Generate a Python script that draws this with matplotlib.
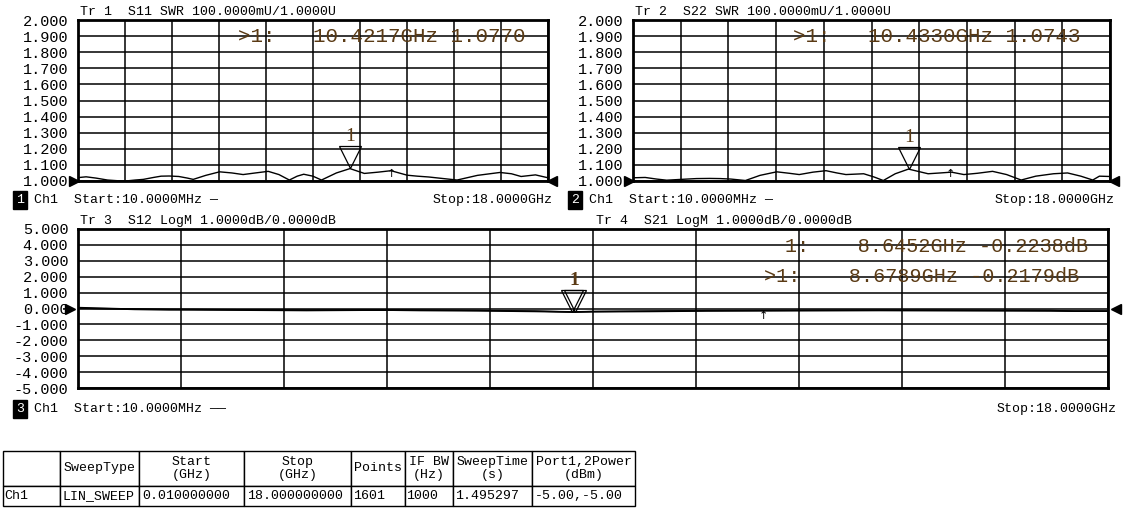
import matplotlib.pyplot as plt
import matplotlib.transforms as mtransforms

plt.rcParams['font.family'] = ['Liberation Mono', 'DejaVu Sans Mono']

# S11 / S22 SWR traces (GHz, SWR)
s11_freq = [0.01, 0.32, 0.7, 1.14, 1.5, 1.83, 2.2, 2.51, 2.9, 3.19, 3.5, 3.87, 4.2, 4.42,
            4.9, 5.43, 5.9, 6.33, 6.8, 7.29, 7.7, 8.10, 8.4, 8.65, 9.0, 9.33, 9.9,
            10.42, 10.97, 11.5, 11.99, 12.61, 13.0, 13.43, 14.0, 14.52, 15.3, 16.16,
            16.6, 16.97, 17.52, 18.0]
s11_swr = [1.021, 1.026, 1.018, 1.006, 1.002, 1.000, 1.006, 1.010, 1.022, 1.030, 1.031,
           1.028, 1.018, 1.010, 1.035, 1.057, 1.050, 1.040, 1.050, 1.060, 1.040, 1.006,
           1.030, 1.042, 1.030, 1.006, 1.050, 1.077, 1.047, 1.055, 1.064, 1.036, 1.030,
           1.025, 1.015, 1.006, 1.035, 1.053, 1.045, 1.028, 1.038, 1.020]

s22_freq = [0.01, 0.47, 0.9, 1.28, 1.82, 2.4, 2.9, 3.3, 3.7, 4.25, 4.8, 5.43, 5.9, 6.28,
            6.8, 7.29, 7.7, 8.04, 8.71, 9.1, 9.45, 9.9, 10.4, 11.14, 11.6, 12.02, 12.49,
            13.0, 13.57, 14.1, 14.65, 15.2, 15.87, 16.4, 16.9, 17.35, 17.6, 18.0]
s22_swr = [1.020, 1.022, 1.012, 1.005, 1.010, 1.015, 1.016, 1.015, 1.012, 1.003, 1.035,
           1.057, 1.048, 1.040, 1.055, 1.064, 1.050, 1.040, 1.045, 1.025, 1.003, 1.045,
           1.074, 1.045, 1.050, 1.055, 1.040, 1.048, 1.060, 1.040, 1.006, 1.030, 1.045,
           1.050, 1.030, 1.006, 1.030, 1.028]

# S12 / S21 LogM traces (GHz, dB)
lin_freq = [0.01, 0.3, 1.0, 1.6, 2.0, 3.0, 4.0, 5.0, 5.5, 6.0, 7.0, 8.0, 8.65, 8.68, 9.0,
            10.0, 11.0, 12.0, 13.0, 14.0, 15.0, 16.0, 17.0, 17.4, 18.0]
s12_db = [0.05, 0.02, -0.05, -0.08, -0.08, -0.10, -0.12, -0.10, -0.10, -0.12, -0.14,
          -0.18, -0.22, -0.22, -0.20, -0.18, -0.15, -0.14, -0.13, -0.12, -0.13, -0.14,
          -0.15, -0.16, -0.16]
s21_db = [0.03, 0.00, -0.03, -0.05, -0.06, -0.08, -0.10, -0.09, -0.09, -0.10, -0.12,
          -0.16, -0.2238, -0.2179, -0.19, -0.16, -0.13, -0.12, -0.11, -0.10, -0.10, -0.11,
          -0.12, -0.17, -0.17]

# markers
s11_mk = (10.4217, 1.0770)
s22_mk = (10.4330, 1.0743)
s21_mk = [(8.6452, -0.2238), (8.6789, -0.2179)]
ref_freq = 11.99

swr_ticks = [1.0, 1.1, 1.2, 1.3, 1.4, 1.5, 1.6, 1.7, 1.8, 1.9, 2.0]
db_ticks = [-5, -4, -3, -2, -1, 0, 1, 2, 3, 4, 5]

tbl_header = ['', 'SweepType', 'Start\n(GHz)', 'Stop\n(GHz)', 'Points', 'IF BW\n(Hz)',
              'SweepTime\n(s)', 'Port1,2Power\n(dBm)']
tbl_row = ['Ch1', 'LIN_SWEEP', '0.010000000', '18.000000000', '1601', '1000', '1.495297',
           '-5.00,-5.00']

W, H = 1125, 513
mk_col = '#5a3a14'
fig = plt.figure(figsize=(W / 100, H / 100), dpi=100)


def box(x0, y0, x1, y1):
    return [x0 / W, 1 - y1 / H, (x1 - x0) / W, (y1 - y0) / H]


def setup(ax, ticks, fmt):
    ax.set_xlim(0.01, 18.0)
    ax.set_ylim(ticks[0], ticks[-1])
    step = (18.0 - 0.01) / 10
    ax.set_xticks([0.01 + i * step for i in range(11)])
    ax.set_yticks(ticks)
    ax.set_yticklabels([fmt % t for t in ticks])
    ax.set_xticklabels([])
    ax.tick_params(length=0, pad=7, labelsize=11)
    ax.grid(True, color='black', lw=1.1)
    for s in ax.spines.values():
        s.set_linewidth(2)
    # reference triangles
    tr = ax.get_yaxis_transform()
    ref = 1.0 if ticks[0] == 1.0 else 0.0
    ax.plot([-0.008], [ref], marker='>', ms=7, color='black', transform=tr, clip_on=False)
    ax.plot([1.008], [ref], marker='<', ms=7, color='black', transform=tr, clip_on=False)


def marker(ax, f, v, dx=0, label=True, weight='normal'):
    off = mtransforms.offset_copy(ax.transData, fig=fig, x=dx, y=8, units='points')
    ax.plot([f], [v], marker='v', ms=16, mfc='none', mec='black', mew=0.9,
            transform=off, clip_on=False)
    if label:
        ax.annotate('1', (f, v), xytext=(0, 23), textcoords='offset points', ha='center',
                    va='center', fontsize=14, color=mk_col, family='Liberation Serif',
                    fontweight=weight)


# top panels
for bx, fr, sw, mk, tr_txt, num, mk_txt in [
        (box(78, 20, 548, 181), s11_freq, s11_swr, s11_mk,
         'Tr 1  S11 SWR 100.0000mU/1.0000U', '1', '>1:   10.4217GHz 1.0770'),
        (box(633, 20, 1110, 181), s22_freq, s22_swr, s22_mk,
         'Tr 2  S22 SWR 100.0000mU/1.0000U', '2', '>1:   10.4330GHz 1.0743')]:
    ax = fig.add_axes(bx)
    setup(ax, swr_ticks, '%.3f')
    ax.plot(fr, sw, color='black', lw=1)
    marker(ax, mk[0], mk[1])
    ax.annotate('\u2191', (ref_freq, 1.01), ha='center', va='bottom', fontsize=8,
                family='DejaVu Sans')
    x0 = bx[0] * W
    fig.text((x0 + 2) / W, 1 - 12 / H, tr_txt, fontsize=9.5, va='center')
    fig.text((x0 + 160) / W, 1 - 37 / H, mk_txt, fontsize=15, va='center', color=mk_col)
    fig.text((x0 - 62) / W, 1 - 200 / H, num, fontsize=9.5, va='center', color='white',
             bbox=dict(boxstyle='square,pad=0.25', fc='black', ec='black'))
    fig.text((x0 - 44) / W, 1 - 200 / H, 'Ch1  Start:10.0000MHz \u2014', fontsize=9.5,
             va='center')
    fig.text((bx[0] + bx[2]) + 5 / W, 1 - 200 / H, 'Stop:18.0000GHz',
             fontsize=9.5, va='center', ha='right')

# bottom panel
ax = fig.add_axes(box(78, 229, 1108, 388))
setup(ax, db_ticks, '%.3f')
ax.plot(lin_freq, s12_db, color='black', lw=1.3)
ax.plot(lin_freq, s21_db, color='black', lw=1)
marker(ax, s21_mk[0][0], s21_mk[0][1], dx=-0.6, label=False)
marker(ax, s21_mk[1][0], s21_mk[1][1], dx=0.6, weight='bold')
ax.annotate('\u2191', (ref_freq, -0.45), ha='center', va='center', fontsize=8,
            family='DejaVu Sans')
fig.text(80 / W, 1 - 221 / H, 'Tr 3  S12 LogM 1.0000dB/0.0000dB', fontsize=9.5, va='center')
fig.text(596 / W, 1 - 221 / H, 'Tr 4  S21 LogM 1.0000dB/0.0000dB', fontsize=9.5, va='center')
fig.text(785 / W, 1 - 246 / H, '1:    8.6452GHz -0.2238dB', fontsize=14.5, va='center',
         color=mk_col)
fig.text(764 / W, 1 - 276 / H, '>1:    8.6789GHz -0.2179dB', fontsize=14.5, va='center',
         color=mk_col)
fig.text(16 / W, 1 - 409 / H, '3', fontsize=9.5, va='center', color='white',
         bbox=dict(boxstyle='square,pad=0.25', fc='black', ec='black'))
fig.text(34 / W, 1 - 409 / H, 'Ch1  Start:10.0000MHz \u2014\u2014', fontsize=9.5, va='center')
fig.text(1117 / W, 1 - 409 / H, 'Stop:18.0000GHz', fontsize=9.5, va='center', ha='right')

# settings table
tax = fig.add_axes(box(3, 451, 635, 506))
tax.axis('off')
widths = [57, 79, 105, 107, 54, 48, 79, 103]
tb = tax.table(cellText=[tbl_header, tbl_row], bbox=[0, 0, 1, 1], cellLoc='left')
tb.auto_set_font_size(False)
tb.set_fontsize(9.5)
for (r, c), cell in tb.get_celld().items():
    cell.set_width(widths[c] / sum(widths))
    cell.set_height(35 / 55 if r == 0 else 20 / 55)
    cell.set_linewidth(1)
    cell.PAD = 0.03
    if r == 0:
        cell.get_text().set_ha('center')
        cell._loc = 'center'

fig.savefig('out.png', dpi=100)
